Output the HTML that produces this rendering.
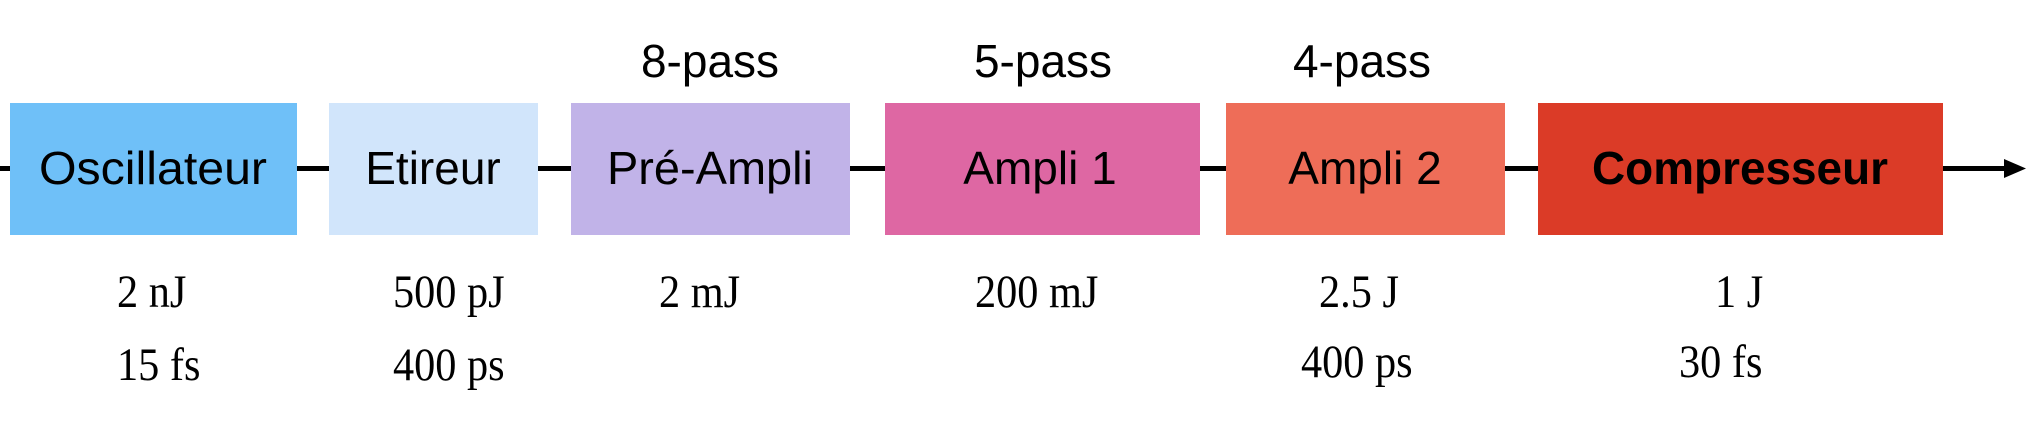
<!DOCTYPE html>
<html><head><meta charset="utf-8"><style>
html,body{margin:0;padding:0;background:#fff;}
svg{display:block}
.b{font-family:"Liberation Sans",sans-serif;font-size:46px;fill:#000;text-anchor:middle}
.t{font-family:"Liberation Serif",serif;font-size:47px;fill:#000}
</style></head><body>
<svg width="2034" height="434" viewBox="0 0 2034 434" xmlns="http://www.w3.org/2000/svg">
<line x1="0" y1="168.5" x2="2008" y2="168.5" stroke="#000" stroke-width="5"/>
<polygon points="2004,159 2026,168.5 2004,178" fill="#000"/>
<rect x="10" y="103" width="287" height="132" fill="#6fc0f8"/>
<rect x="329" y="103" width="209" height="132" fill="#d1e5fb"/>
<rect x="571" y="103" width="279" height="132" fill="#c1b3e8"/>
<rect x="885" y="103" width="315" height="132" fill="#de67a3"/>
<rect x="1226" y="103" width="279" height="132" fill="#ee6d58"/>
<rect x="1538" y="103" width="405" height="132" fill="#db3b27"/>
<text class="b" x="153" y="184" textLength="228" lengthAdjust="spacingAndGlyphs">Oscillateur</text>
<text class="b" x="433" y="184">Etireur</text>
<text class="b" x="710" y="184" textLength="206" lengthAdjust="spacingAndGlyphs">Pré-Ampli</text>
<text class="b" x="1040" y="184">Ampli 1</text>
<text class="b" x="1365" y="184">Ampli 2</text>
<text class="b" x="1740" y="184" font-weight="bold" textLength="296" lengthAdjust="spacingAndGlyphs">Compresseur</text>
<text class="b" x="710" y="77">8-pass</text>
<text class="b" x="1043" y="77">5-pass</text>
<text class="b" x="1362" y="77">4-pass</text>
<g transform="translate(117,0) scale(0.9,1)"><text class="t" x="0" y="307">2 nJ</text><text class="t" x="0" y="380">15 fs</text></g>
<g transform="translate(393,0) scale(0.9,1)"><text class="t" x="0" y="307">500 pJ</text><text class="t" x="0" y="380">400 ps</text></g>
<g transform="translate(659,0) scale(0.9,1)"><text class="t" x="0" y="307">2 mJ</text></g>
<g transform="translate(975,0) scale(0.9,1)"><text class="t" x="0" y="307">200 mJ</text></g>
<g transform="translate(1319,0) scale(0.9,1)"><text class="t" x="0" y="307">2.5 J</text></g>
<g transform="translate(1301,0) scale(0.9,1)"><text class="t" x="0" y="377">400 ps</text></g>
<g transform="translate(1715,0) scale(0.9,1)"><text class="t" x="0" y="307">1 J</text></g>
<g transform="translate(1679,0) scale(0.9,1)"><text class="t" x="0" y="377">30 fs</text></g>
</svg>
</body></html>
